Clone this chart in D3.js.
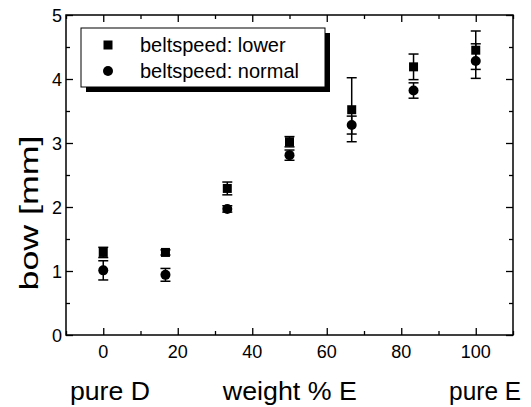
<!DOCTYPE html>
<html>
<head>
<meta charset="utf-8">
<script src="https://cdn.jsdelivr.net/npm/d3@7"></script>
<style>
body { margin: 0; background: #fff; }
text { font-family: "Liberation Sans", Arial, sans-serif; fill: #000; }
</style>
</head>
<body>
<div id="my_dataviz"></div>
<script>
// weight % E for each blend
var xs = [0, 16.7, 33.3, 50, 66.7, 83.3, 100];
var lower = [1.29, 1.29, 2.29, 3.02, 3.52, 4.19, 4.45];
var lowerErr = [0.08, 0.04, 0.1, 0.08, 0.5, 0.2, 0.3];
var normal = [1.01, 0.94, 1.97, 2.81, 3.28, 3.82, 4.28];
var normalErr = [0.15, 0.1, 0.05, 0.08, 0.14, 0.12, 0.27];
var xTicks = [0, 20, 40, 60, 80, 100];
var xMinor = [-10, 10, 30, 50, 70, 90, 110];
var yTicks = [0, 1, 2, 3, 4, 5];
var yMinor = [0.5, 1.5, 2.5, 3.5, 4.5];
var legendLabels = ["beltspeed: lower", "beltspeed: normal"];

var margin = {top: 15, right: 18, bottom: 72, left: 66};
var width = 531 - margin.left - margin.right, height = 407 - margin.top - margin.bottom;

var svg = d3.select('#my_dataviz')
    .append('svg')
    .attr('width', 531)
    .attr('height', 407)
    .append('g')
    .attr('transform', 'translate(' + margin.left + ',' + margin.top + ')');

var x = d3.scaleLinear().domain([-10, 110]).range([0, width]);
var y = d3.scaleLinear().domain([0, 5]).range([height, 0]);

// frame ticks, all pointing inward
function ticks(g, axis, vals, size) {
    g.call(axis.tickValues(vals).tickSize(size).tickFormat(''));
    g.select('.domain').remove();
    g.selectAll('line').attr('stroke', '#000').attr('stroke-width', 1.3);
}
svg.append('g').attr('transform', 'translate(0,' + height + ')').call(ticks, d3.axisTop(x), xTicks, 7);
svg.append('g').attr('transform', 'translate(0,' + height + ')').call(ticks, d3.axisTop(x), xMinor, 4);
svg.append('g').call(ticks, d3.axisBottom(x), xTicks, 7);
svg.append('g').call(ticks, d3.axisBottom(x), xMinor, 4);
svg.append('g').call(ticks, d3.axisRight(y), yTicks, 7);
svg.append('g').call(ticks, d3.axisRight(y), yMinor, 4);
svg.append('g').attr('transform', 'translate(' + width + ',0)').call(ticks, d3.axisLeft(y), yTicks, 7);
svg.append('g').attr('transform', 'translate(' + width + ',0)').call(ticks, d3.axisLeft(y), yMinor, 4);

svg.append('rect')
    .attr('width', width).attr('height', height)
    .attr('fill', 'none').attr('stroke', '#000').attr('stroke-width', 1.5);

// tick labels
svg.selectAll('.xl').data(xTicks).enter().append('text')
    .attr('x', function(d){ return x(d); })
    .attr('y', height + 23)
    .attr('text-anchor', 'middle')
    .style('font-size', '18px')
    .text(function(d){ return d; });
svg.selectAll('.yl').data(yTicks).enter().append('text')
    .attr('x', -4)
    .attr('y', function(d){ return y(d) + 6.5; })
    .attr('text-anchor', 'end')
    .style('font-size', '18px')
    .text(function(d){ return d; });

// axis titles
svg.append('text').attr('x', x(1.8)).attr('y', height + 65).attr('text-anchor', 'middle')
    .style('font-size', '26px').attr('textLength', 80).attr('lengthAdjust', 'spacingAndGlyphs').text('pure D');
svg.append('text').attr('x', x(50.1)).attr('y', height + 65).attr('text-anchor', 'middle')
    .style('font-size', '26px').attr('textLength', 134).attr('lengthAdjust', 'spacingAndGlyphs').text('weight % E');
svg.append('text').attr('x', x(102.5)).attr('y', height + 65).attr('text-anchor', 'middle')
    .style('font-size', '26px').attr('textLength', 72).attr('lengthAdjust', 'spacingAndGlyphs').text('pure E');
svg.append('text')
    .attr('transform', 'translate(' + (38 - margin.left) + ',' + (213 - margin.top) + ') rotate(-90)')
    .attr('text-anchor', 'middle')
    .style('font-size', '26px').attr('textLength', 155).attr('lengthAdjust', 'spacingAndGlyphs')
    .text('bow [mm]');

// error bars
function errBars(vals, errs) {
    var g = svg.append('g').attr('stroke', '#000').attr('stroke-width', 1.5);
    xs.forEach(function(xv, i) {
        var px = x(xv), hi = y(vals[i] + errs[i]), lo = y(vals[i] - errs[i]);
        g.append('line').attr('x1', px).attr('x2', px).attr('y1', hi).attr('y2', lo);
        g.append('line').attr('x1', px - 5).attr('x2', px + 5).attr('y1', hi).attr('y2', hi);
        g.append('line').attr('x1', px - 5).attr('x2', px + 5).attr('y1', lo).attr('y2', lo);
    });
}
errBars(lower, lowerErr);
errBars(normal, normalErr);

svg.selectAll('.sq').data(lower).enter().append('rect')
    .attr('x', function(d, i){ return x(xs[i]) - 4.5; })
    .attr('y', function(d){ return y(d) - 4.5; })
    .attr('width', 9).attr('height', 9).attr('fill', '#000');
svg.selectAll('.ci').data(normal).enter().append('circle')
    .attr('cx', function(d, i){ return x(xs[i]); })
    .attr('cy', function(d){ return y(d); })
    .attr('r', 5).attr('fill', '#000');

// legend with drop shadow
var lg = svg.append('g').attr('transform', 'translate(' + (81 - margin.left) + ',' + (28 - margin.top) + ')');
lg.append('rect').attr('x', 5).attr('y', 5).attr('width', 244).attr('height', 59).attr('fill', '#000');
lg.append('rect').attr('width', 244).attr('height', 59).attr('fill', '#fff').attr('stroke', '#000').attr('stroke-width', 1);
lg.append('rect').attr('x', 27 - 4.5).attr('y', 17 - 4.5).attr('width', 9).attr('height', 9).attr('fill', '#000');
lg.append('circle').attr('cx', 27).attr('cy', 43).attr('r', 5).attr('fill', '#000');
lg.selectAll('.lt').data(legendLabels).enter().append('text')
    .attr('x', 59)
    .attr('y', function(d, i){ return 24 + i * 26; })
    .style('font-size', '20px')
    .text(function(d){ return d; });
</script>
</body>
</html>
